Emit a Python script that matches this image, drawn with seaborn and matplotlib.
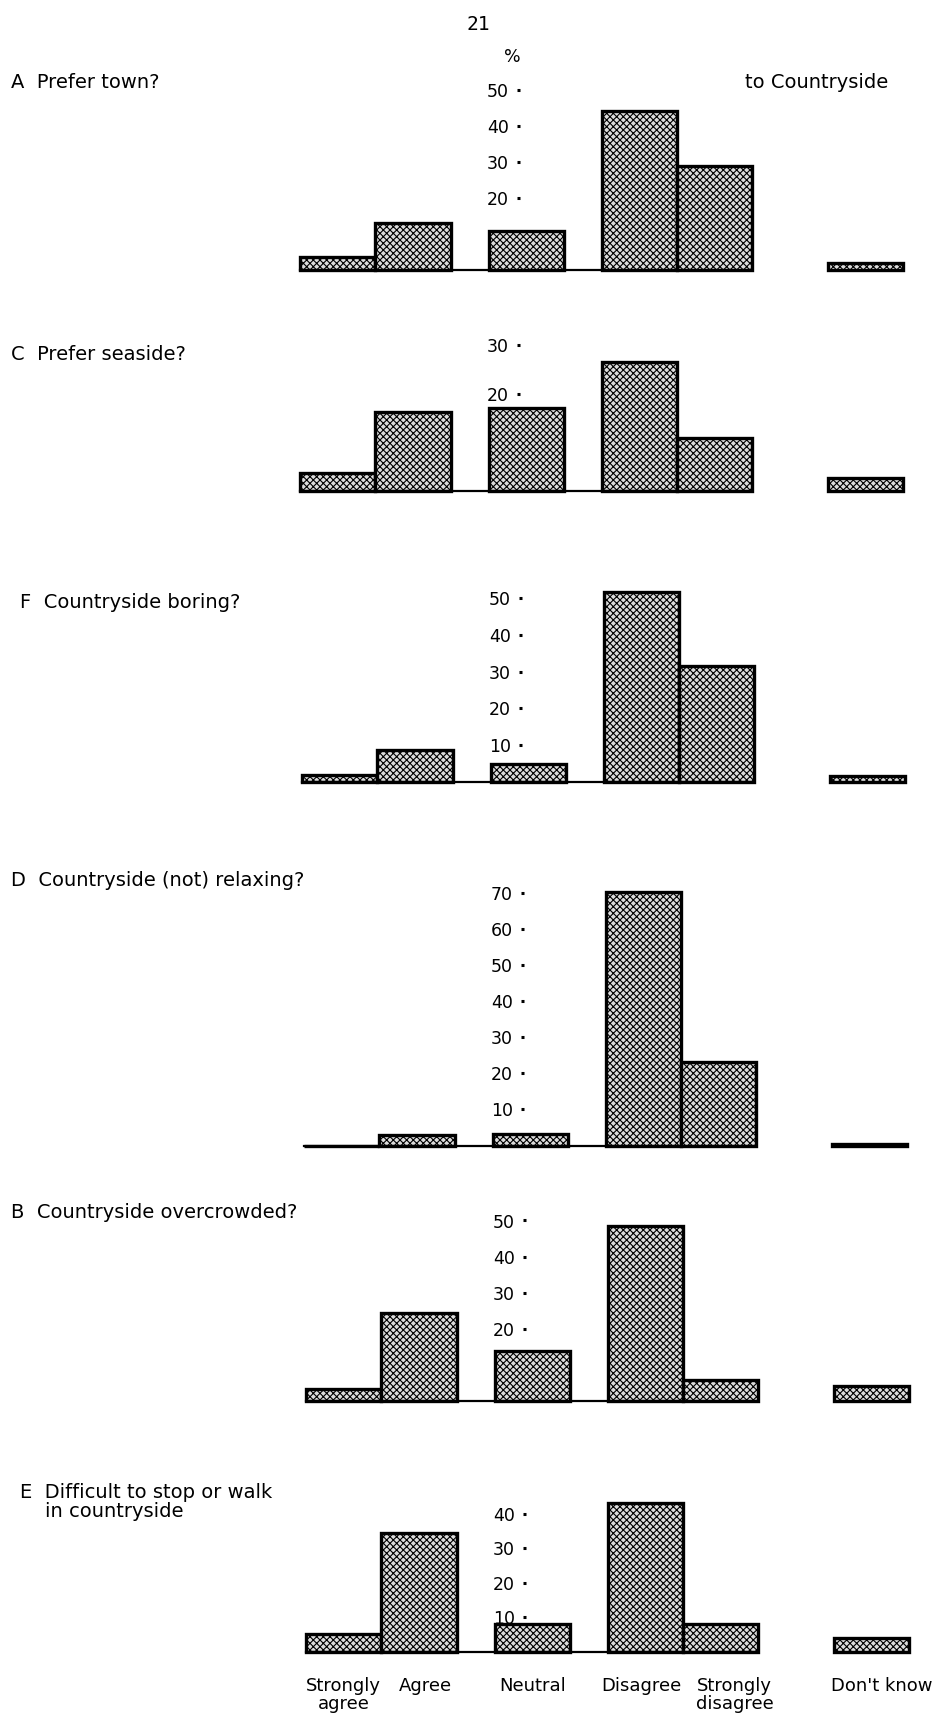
import numpy as np
import pandas as pd
import seaborn as sns
import matplotlib
matplotlib.use("Agg")
import matplotlib.pyplot as plt
from matplotlib.transforms import ScaledTranslation

# ---------------- data ----------------
categories = ["Strongly\nagree", "Agree", "Neutral", "Disagree", "Strongly\ndisagree", "Don't know"]

panel_titles = ["A  Prefer town?", "C  Prefer seaside?", "F  Countryside boring?",
                "D  Countryside (not) relaxing?", "B  Countryside overcrowded?",
                "E  Difficult to stop or walk\n    in countryside"]

pct_A = [3.8, 13.1, 11.0, 44.3, 29.0, 2.0]
pct_C = [3.7, 16.3, 17.1, 26.6, 10.9, 2.7]
pct_F = [2.1, 8.8, 5.0, 51.7, 31.6, 1.6]
pct_D = [0.0, 3.0, 3.2, 70.1, 23.0, 0.3]
pct_B = [3.1, 24.4, 13.8, 48.6, 5.8, 4.0]
pct_E = [5.1, 34.3, 7.9, 43.0, 7.9, 3.9]

ticks_A = [20, 30, 40, 50]
ticks_C = [20, 30]
ticks_F = [10, 20, 30, 40, 50]
ticks_D = [10, 20, 30, 40, 50, 60, 70]
ticks_B = [20, 30, 40, 50]
ticks_E = [10, 20, 30, 40]

# ---------------- layout ----------------
W, H = 949, 1729
slots = [0, 1, 2.5, 4, 5, 7]          # horizontal slot of each category
UNIT = 75.4                            # px per slot
sns.set_theme(style="white")
plt.rcParams["font.family"] = ["DejaVu Sans"]
plt.rcParams["hatch.linewidth"] = 0.8
for k in ["text.color", "axes.labelcolor", "xtick.color", "ytick.color"]:
    plt.rcParams[k] = "black"

fig = plt.figure(figsize=(W / 100, H / 100), dpi=100)

# (values, ticks, baseline px, px per %, left edge px, top value, title y px, title x px)
panels = [
    (pct_A, ticks_A, 270.5, 3.60, 300, 56, 83, 11),
    (pct_C, ticks_C, 490.7, 4.85, 300, 34, 355, 11),
    (pct_F, ticks_F, 782.3, 3.69, 302, 56, 602, 20),
    (pct_D, ticks_D, 1145.5, 3.61, 304, 78, 881, 11),
    (pct_B, ticks_B, 1400.5, 3.60, 306, 54, 1213, 11),
    (pct_E, ticks_E, 1651.7, 3.45, 306, 46, 1502, 20),
]

for i, (vals, ticks, base, sc, x0, ytop, ty, tx) in enumerate(panels):
    xmin, xmax = -0.7, 7.7
    ymin = -1.5
    left_px = x0 + (xmin + 0.5) * UNIT
    width_px = (xmax - xmin) * UNIT
    bottom_px = base - ymin * sc
    top_px = base - ytop * sc
    ax = fig.add_axes([left_px / W, 1 - bottom_px / H, width_px / W, (bottom_px - top_px) / H])
    ax.patch.set_alpha(0)

    df = pd.DataFrame({"slot": slots, "pct": vals, "cat": categories})
    sns.barplot(data=df, x="slot", y="pct", native_scale=True, width=1.0,
                color="#d8d8d8", edgecolor="black", linewidth=2.4,
                errorbar=None, ax=ax, saturation=1)
    for p in ax.patches:
        p.set_hatch("xxxxx")
        p.set_facecolor("#dcdcdc")
        p.set_edgecolor("black")

    ax.set_xlim(xmin, xmax)
    ax.set_ylim(ymin, ytop)
    ax.set_xlabel("")
    ax.set_ylabel("")

    for s in ["top", "right"]:
        ax.spines[s].set_visible(False)
    ax.spines["left"].set_position(("data", 2.38))
    ax.spines["left"].set_linewidth(0)
    ax.spines["bottom"].set_position(("data", 0))
    ax.spines["bottom"].set_bounds(-0.5, 5.5)
    ax.spines["bottom"].set_linewidth(1.6)
    ax.spines["bottom"].set_color("black")

    ax.set_yticks(ticks)
    ax.set_yticklabels([str(t) for t in ticks], fontsize=12.5)
    ax.tick_params(axis="y", left=True, direction="in", length=2.2, width=2.2,
                   color="black", pad=6)

    if i == len(panels) - 1:
        ax.set_xticks(slots)
        ax.set_xticklabels(categories, fontsize=13, linespacing=1.0)
        ax.tick_params(axis="x", bottom=True, length=0, pad=18)
        labs = ax.get_xticklabels()
        shifts = [0, 6, 0, -4, 14, 10]
        for lab, dx in zip(labs, shifts):
            lab.set_transform(lab.get_transform() + ScaledTranslation(dx / 100, 0, fig.dpi_scale_trans))
    else:
        ax.set_xticks([])

    fig.text(tx / W, 1 - ty / H, panel_titles[i], fontsize=14, ha="left", va="center",
             linespacing=1.05)

fig.text(478 / W, 1 - 25 / H, "21", fontsize=14, family="DejaVu Sans Mono", ha="center", va="center")
fig.text(512 / W, 1 - 57 / H, "%", fontsize=12.5, ha="center", va="center")
fig.text(745 / W, 1 - 83 / H, "to Countryside", fontsize=14, ha="left", va="center")

fig.savefig("out.png", dpi=100)
